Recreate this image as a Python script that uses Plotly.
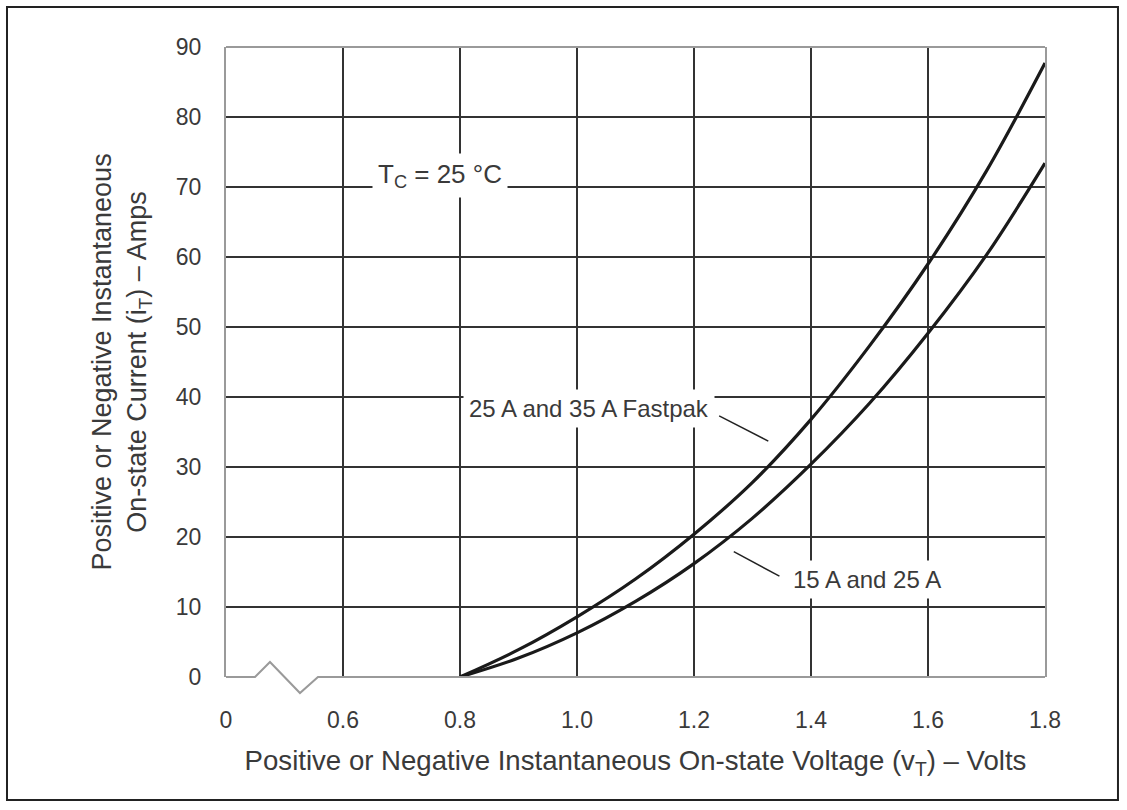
import plotly.graph_objects as go

# Data
voltage = [0.8, 0.9, 1.0, 1.1, 1.2, 1.3, 1.4, 1.5, 1.6, 1.7, 1.8]
current_fastpak = [0.0, 3.9, 8.6, 14.0, 20.4, 27.8, 36.8, 47.3, 59.0, 72.3, 87.7]
current_15_25 = [0.0, 2.7, 6.3, 10.8, 16.2, 22.7, 30.4, 39.1, 49.1, 60.3, 73.4]

x_tickvals = [0.4, 0.6, 0.8, 1.0, 1.2, 1.4, 1.6, 1.8]
x_ticktext = ["0", "0.6", "0.8", "1.0", "1.2", "1.4", "1.6", "1.8"]
y_tickvals = [0, 10, 20, 30, 40, 50, 60, 70, 80, 90]

label_fastpak = "25 A and 35 A Fastpak"
label_15_25 = "15 A and 25 A"
label_temp = "T<sub>C</sub> = 25 °C"

# leader lines [x0, y0, x1, y1] in data units
leader_fastpak = [1.243, 37.3, 1.327, 33.7]
leader_15_25 = [1.268, 17.9, 1.346, 14.4]

FONT = "Liberation Sans, Arial, sans-serif"
TXT = "#3a3a3a"
GRID = "#333333"
AXIS = "#9a9a9a"

fig = go.Figure()
fig.add_trace(go.Scatter(x=voltage, y=current_fastpak, mode="lines",
                         line=dict(color="#1a1a1a", width=3.2, shape="spline"),
                         name=label_fastpak, hoverinfo="x+y"))
fig.add_trace(go.Scatter(x=voltage, y=current_15_25, mode="lines",
                         line=dict(color="#1a1a1a", width=3.2, shape="spline"),
                         name=label_15_25, hoverinfo="x+y"))

fig.update_layout(
    width=1127, height=810,
    margin=dict(l=226, r=82, t=47, b=133),
    paper_bgcolor="white", plot_bgcolor="white",
    showlegend=False,
    font=dict(family=FONT, size=23, color=TXT),
)

fig.update_xaxes(
    range=[0.4, 1.8], tickvals=x_tickvals, ticktext=x_ticktext,
    showgrid=True, gridcolor=GRID, gridwidth=1.6,
    showline=False, zeroline=False, ticks="",
    ticklabelstandoff=27, tickfont=dict(size=23, color=TXT),
    title=dict(text="Positive or Negative Instantaneous On-state Voltage (v<sub>T</sub>) – Volts",
               standoff=18, font=dict(size=27.6, color=TXT)),
)
fig.update_yaxes(
    range=[0, 90], tickvals=y_tickvals,
    showgrid=True, gridcolor=GRID, gridwidth=1.6,
    showline=True, linecolor=AXIS, linewidth=2, mirror=True,
    zeroline=False, ticks="",
    ticklabelstandoff=18, tickfont=dict(size=23, color=TXT),
    title=dict(text="Positive or Negative Instantaneous<br>On-state Current (i<sub>T</sub>) – Amps",
               standoff=21, font=dict(size=27, color=TXT)),
)

# top axis line
fig.add_shape(type="line", xref="paper", yref="paper", x0=0, x1=1, y0=1, y1=1,
              line=dict(color=AXIS, width=2))
# bottom axis line with break symbol
fig.add_shape(type="path", xref="paper", yref="paper",
              path="M 0 0 L 0.0354 0 L 0.0537 0.0238 L 0.0903 -0.0254 L 0.1123 0 L 1 0",
              line=dict(color=AXIS, width=2))
# outer frame
fig.add_shape(type="rect", xref="paper", yref="paper",
              x0=-0.2674, x1=1.0891, y0=-0.1952, y1=1.0635,
              line=dict(color="#222222", width=2))

# leader lines
for ld in (leader_fastpak, leader_15_25):
    fig.add_shape(type="line", xref="x", yref="y", x0=ld[0], y0=ld[1], x1=ld[2], y1=ld[3],
                  line=dict(color="#222222", width=1.5))

fig.add_annotation(x=0.766, y=71.7, text=label_temp, showarrow=False,
                   bgcolor="white", borderpad=5, font=dict(size=26, color=TXT))
fig.add_annotation(x=1.02, y=38.4, text=label_fastpak, showarrow=False,
                   bgcolor="white", borderpad=5, font=dict(size=24, color=TXT))
fig.add_annotation(x=1.495, y=13.9, text=label_15_25, showarrow=False,
                   bgcolor="white", borderpad=5, font=dict(size=24, color=TXT))

fig.write_html("out.html", config={"displayModeBar": False},
               post_script="document.body.style.margin='0px';")
